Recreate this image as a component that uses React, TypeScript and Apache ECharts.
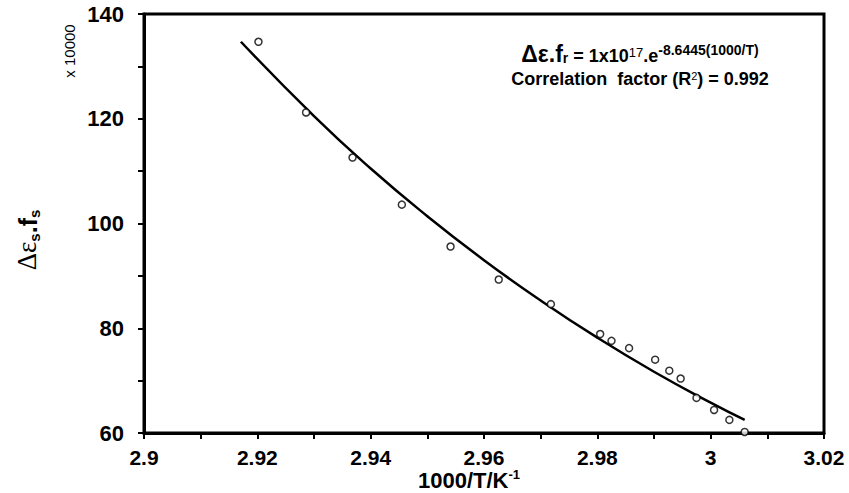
import React, { useEffect, useRef } from 'react';
import * as echarts from 'echarts';

// Measured points: 1000/T (K^-1) and Δε_s·f_s (x 10000)
const pointX = [2.9202, 2.9286, 2.9368, 2.9455, 2.9541, 2.9626, 2.9718, 2.9805, 2.9825, 2.9856, 2.9902, 2.9927, 2.9947, 2.9975, 3.0006, 3.0033, 3.006];
const pointY = [134.7, 121.2, 112.6, 103.6, 95.6, 89.3, 84.6, 78.9, 77.6, 76.2, 74.0, 71.9, 70.4, 66.7, 64.4, 62.5, 60.2];

// Fitted curve
const fitX = [2.9171, 2.93, 2.94, 2.95, 2.96, 2.97, 2.98, 2.99, 3.0, 3.006];
const fitY = [134.7, 120.5, 110.5, 101.4, 93.0, 85.3, 78.2, 71.7, 65.8, 62.5];

const xMin = 2.9;
const xMax = 3.02;
const xStep = 0.02;
const yMin = 60;
const yMax = 140;
const yStep = 20;

const SANS = '"Liberation Sans", Arial, sans-serif';
const SERIF = '"Liberation Serif", "DejaVu Serif", serif';

export default function App() {
  const ref = useRef<HTMLDivElement>(null);

  useEffect(() => {
    if (!ref.current) return;
    const chart = echarts.init(ref.current, undefined, { renderer: 'svg' });

    const axisCommon = {
      axisLine: { show: true, onZero: false, lineStyle: { color: '#000', width: 3 } },
      axisTick: { show: true, inside: false, length: 6, lineStyle: { color: '#000', width: 2 } },
      minorTick: { show: true, splitNumber: 2, length: 6, lineStyle: { color: '#000', width: 2 } },
      splitLine: { show: false },
      minorSplitLine: { show: false },
    };

    chart.setOption({
      animation: false,
      backgroundColor: '#fff',
      grid: {
        left: 144,
        right: 25,
        top: 14,
        bottom: 60,
        show: true,
        borderColor: '#000',
        borderWidth: 3,
        backgroundColor: 'transparent',
      },
      xAxis: {
        type: 'value',
        min: xMin,
        max: xMax,
        interval: xStep,
        ...axisCommon,
        axisLabel: {
          margin: 14,
          color: '#000',
          fontFamily: SANS,
          fontWeight: 'bold',
          fontSize: 21,
          showMinLabel: true,
          showMaxLabel: true,
        },
      },
      yAxis: {
        type: 'value',
        min: yMin,
        max: yMax,
        interval: yStep,
        ...axisCommon,
        axisLabel: {
          margin: 20,
          color: '#000',
          fontFamily: SANS,
          fontWeight: 'bold',
          fontSize: 22,
        },
      },
      series: [
        {
          type: 'line',
          data: fitX.map((x, i) => [x, fitY[i]]),
          smooth: true,
          showSymbol: false,
          lineStyle: { color: '#000', width: 2.5 },
          z: 2,
        },
        {
          type: 'scatter',
          data: pointX.map((x, i) => [x, pointY[i]]),
          symbol: 'circle',
          symbolSize: 7,
          clip: false,
          itemStyle: { color: '#fff', borderColor: '#000', borderWidth: 1.5 },
          z: 3,
        },
      ],
      graphic: [
        {
          type: 'text',
          x: 640,
          y: 53,
          style: {
            text: '{a|Δε.f}{sub|r}{b|\u00a0= 1x10}{sup|17}{b|.e}{sup2|-8.6445(1000/T)}',
            align: 'center',
            verticalAlign: 'middle',
            fill: '#000',
            rich: {
              a: { fontFamily: SANS, fontWeight: 'bold', fontSize: 23, lineHeight: 24, verticalAlign: 'bottom', fill: '#000' },
              sub: { fontFamily: SANS, fontWeight: 'bold', fontSize: 14, lineHeight: 14, verticalAlign: 'bottom', fill: '#000' },
              b: { fontFamily: SANS, fontWeight: 'bold', fontSize: 18, lineHeight: 18, verticalAlign: 'bottom', fill: '#000' },
              sup: { fontFamily: SANS, fontWeight: 'normal', fontSize: 13, lineHeight: 13, verticalAlign: 'bottom', padding: [0, 0, 6, 0], fill: '#000' },
              sup2: { fontFamily: SANS, fontWeight: 'bold', fontSize: 14, lineHeight: 14, verticalAlign: 'bottom', padding: [0, 0, 8, 0], fill: '#000' },
            },
          },
        },
        {
          type: 'text',
          x: 640,
          y: 78,
          style: {
            text: '{c|Correlation\u00a0\u00a0factor (R}{s|2}{c|) = 0.992}',
            align: 'center',
            verticalAlign: 'middle',
            fill: '#000',
            rich: {
              c: { fontFamily: SANS, fontWeight: 'bold', fontSize: 18, lineHeight: 20, verticalAlign: 'bottom', fill: '#000' },
              s: { fontFamily: SANS, fontWeight: 'normal', fontSize: 11, lineHeight: 11, verticalAlign: 'bottom', padding: [0, 0, 7, 0], fill: '#000' },
            },
          },
        },
        {
          type: 'text',
          x: 28,
          y: 240,
          rotation: Math.PI / 2,
          style: {
            text: '{d|Δε}{s|s}{f|.f}{s|s}',
            align: 'center',
            verticalAlign: 'middle',
            fill: '#000',
            rich: {
              d: { fontFamily: SERIF, fontWeight: 'normal', fontSize: 27, lineHeight: 28, verticalAlign: 'bottom', padding: [0, 0, 2, 0], fill: '#000' },
              f: { fontFamily: SANS, fontWeight: 'bold', fontSize: 25, lineHeight: 28, verticalAlign: 'bottom', padding: [0, 0, 2, 0], fill: '#000' },
              s: { fontFamily: SANS, fontWeight: 'bold', fontSize: 15, lineHeight: 15, verticalAlign: 'bottom', fill: '#000' },
            },
          },
        },
        {
          type: 'text',
          x: 69,
          y: 51,
          rotation: Math.PI / 2,
          style: {
            text: 'x 10000',
            align: 'center',
            verticalAlign: 'middle',
            fontFamily: SANS,
            fontSize: 15,
            fill: '#000',
          },
        },
        {
          type: 'text',
          x: 469,
          y: 480,
          style: {
            text: '{t|1000/T/K}{u|-1}',
            align: 'center',
            verticalAlign: 'middle',
            fill: '#000',
            rich: {
              t: { fontFamily: SANS, fontWeight: 'bold', fontSize: 22, lineHeight: 22, verticalAlign: 'bottom', fill: '#000' },
              u: { fontFamily: SANS, fontWeight: 'bold', fontSize: 13, lineHeight: 13, verticalAlign: 'bottom', padding: [0, 0, 10, 0], fill: '#000' },
            },
          },
        },
      ],
    });

    return () => chart.dispose();
  }, []);

  return <div ref={ref} style={{ width: 849, height: 493, position: 'absolute', left: 0, top: 0 }} />;
}
